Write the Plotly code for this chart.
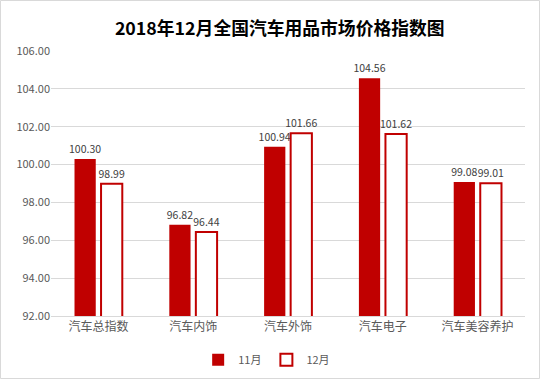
import plotly.graph_objects as go

categories = ["汽车总指数", "汽车内饰", "汽车外饰", "汽车电子", "汽车美容养护"]
nov_values = [100.30, 96.82, 100.94, 104.56, 99.08]
dec_values = [98.99, 96.44, 101.66, 101.62, 99.01]
series_names = ["11月", "12月"]
y_ticks = [92, 94, 96, 98, 100, 102, 104, 106]

RED = "#c00000"
FONT = "Noto Sans CJK SC, Liberation Sans, sans-serif"

fig = go.Figure()
fig.add_trace(go.Bar(
    x=categories, y=nov_values, name=series_names[0],
    marker=dict(color=RED, line=dict(width=0)),
    text=[f"{v:.2f}" for v in nov_values], textposition="outside",
    textfont=dict(size=10.5, color="#404040", family=FONT),
    constraintext="none", cliponaxis=False,
))
fig.add_trace(go.Bar(
    x=categories, y=dec_values, name=series_names[1],
    marker=dict(color="white", line=dict(color=RED, width=2)),
    text=[f"{v:.2f}" for v in dec_values], textposition="outside",
    textfont=dict(size=10.5, color="#404040", family=FONT),
    constraintext="none", cliponaxis=False,
))

L, R, T, B = 51, 15, 51, 63
W, H = 540, 379
pw, ph = W - L - R, H - T - B

fig.update_layout(
    width=W, height=H,
    margin=dict(l=L, r=R, t=T, b=B, autoexpand=False),
    paper_bgcolor="white", plot_bgcolor="white",
    barmode="group", bargap=0.44, bargroupgap=0.2,
    font=dict(family=FONT, color="#595959", size=11),
    title=dict(text="<b>2018年12月全国汽车用品市场价格指数图</b>",
               x=0.518, xanchor="center", y=0.925, yanchor="middle",
               font=dict(size=17.8, color="black", family=FONT)),
    legend=dict(orientation="h", x=0.455, xanchor="center", y=-0.11, yanchor="top",
                font=dict(size=11, color="#595959"), itemwidth=30,
                traceorder="normal"),
    showlegend=True,
    shapes=[dict(type="rect", xref="paper", yref="paper",
                 x0=(-L + 0.5) / pw, x1=(W - L - 0.5) / pw,
                 y0=(-B + 0.5) / ph, y1=(H - B - 0.5) / ph,
                 line=dict(color="#d9d9d9", width=1), layer="below")],
)
fig.update_yaxes(range=[92, 106], tickvals=y_ticks, tickformat=".2f",
                 showgrid=True, gridcolor="#d9d9d9", gridwidth=1,
                 zeroline=False, showline=False, ticks="", automargin=False,
                 tickfont=dict(size=11, color="#595959"))
fig.update_xaxes(showline=True, linecolor="#d9d9d9", ticks="", automargin=False,
                 tickfont=dict(size=12, color="#595959"))

fig.write_html("out.html", config={"displayModeBar": False},
               post_script="document.body.style.margin='0';")
